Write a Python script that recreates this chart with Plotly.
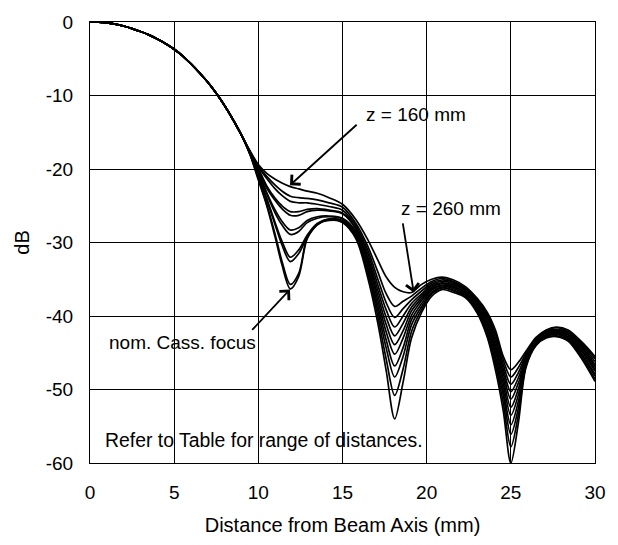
import plotly.graph_objects as go

# Main lobe, shared by every measurement plane (mm, dB)
MAIN_X = [0, 0.5, 1, 1.5, 2, 2.5, 3, 3.5, 4, 4.5, 5, 5.5, 6, 6.5, 7, 7.5, 8, 8.5, 9]
MAIN_DB = [0, -0.03, -0.12, -0.3, -0.55, -0.9, -1.3, -1.75, -2.3, -2.95, -3.7,
           -4.6, -5.7, -6.9, -8.2, -9.7, -11.4, -13.3, -15.4]

# Sidelobe region sample positions (mm)
SIDE_X = [9.5, 10, 10.5, 11, 11.4, 11.9, 12.4, 12.9, 13.5, 14.2, 15, 15.8, 16.5,
          17.1, 17.6, 18.1, 18.6, 19.1, 19.7, 20.3, 20.9, 21.6, 22.3, 23.0, 23.6,
          24.1, 24.55, 25.0, 25.45, 25.9, 26.5, 27.1, 27.7, 28.4, 29.2, 30.0]

# Sidelobe levels (dB) for each plane, z = 160 mm ... 260 mm
z160 = [-17.5, -19.4, -20.6, -21.4, -21.9, -22.4, -22.7, -23.0, -23.3, -23.9, -24.8, -26.9, -29.6,
        -32.4, -34.7, -36.1, -36.7, -36.8, -35.7, -35.0, -34.7, -35.1, -36.0, -37.6, -39.5,
        -42.0, -45.5, -47.3, -46.3, -44.8, -42.9, -41.9, -41.5, -41.9, -43.5, -45.5]
z170 = [-17.6, -19.6, -21.0, -22.2, -23.0, -23.7, -23.9, -24.0, -24.2, -24.6, -25.2, -27.4, -30.5,
        -34.0, -37.0, -38.7, -38.0, -37.3, -36.2, -35.3, -34.9, -35.3, -36.2, -37.8, -39.8,
        -42.5, -46.0, -48.3, -47.0, -45.1, -43.0, -42.0, -41.6, -42.1, -43.7, -45.8]
z180 = [-17.6, -19.7, -21.3, -22.7, -23.6, -24.4, -24.6, -24.6, -24.8, -25.1, -25.6, -27.7, -31.0,
        -35.0, -38.2, -40.2, -39.0, -37.8, -36.6, -35.5, -35.1, -35.4, -36.3, -38.0, -40.1,
        -43.0, -46.6, -49.3, -47.7, -45.3, -43.1, -42.1, -41.8, -42.2, -43.9, -46.2]
z190 = [-17.7, -19.9, -22.3, -24.0, -25.0, -25.8, -25.8, -25.5, -25.4, -25.6, -26.0, -28.0, -31.5,
        -35.8, -39.2, -41.5, -40.0, -38.3, -37.0, -35.7, -35.3, -35.6, -36.5, -38.2, -40.4,
        -43.5, -47.2, -50.3, -48.4, -45.6, -43.2, -42.2, -41.9, -42.4, -44.1, -46.6]
z200 = [-17.7, -20.0, -22.6, -24.3, -25.4, -26.3, -26.3, -25.8, -25.6, -25.7, -26.1, -28.2, -32.0,
        -36.5, -40.2, -42.7, -41.0, -38.8, -37.3, -35.9, -35.5, -35.8, -36.6, -38.4, -40.8,
        -44.0, -47.8, -51.3, -49.1, -45.8, -43.3, -42.3, -42.0, -42.5, -44.3, -46.9]
z210 = [-17.8, -20.3, -23.2, -25.6, -27.1, -28.3, -28.0, -27.0, -26.5, -26.4, -26.7, -28.5, -32.4,
        -37.2, -41.2, -43.9, -42.0, -39.3, -37.6, -36.1, -35.6, -36.0, -36.8, -38.6, -41.1,
        -44.5, -48.5, -52.4, -49.9, -46.0, -43.5, -42.5, -42.1, -42.6, -44.6, -47.2]
z220 = [-17.8, -20.4, -23.4, -26.0, -27.6, -28.9, -28.5, -27.3, -26.7, -26.5, -26.8, -28.7, -32.8,
        -37.9, -42.2, -45.2, -43.0, -39.9, -37.9, -36.3, -35.8, -36.1, -36.9, -38.8, -41.5,
        -45.0, -49.2, -53.5, -50.7, -46.2, -43.6, -42.6, -42.2, -42.8, -44.8, -47.5]
z230 = [-17.9, -20.8, -24.0, -27.3, -29.8, -32.0, -31.0, -29.0, -27.4, -26.8, -27.0, -28.9, -33.3,
        -38.6, -43.3, -46.8, -44.3, -40.5, -38.3, -36.5, -35.9, -36.3, -37.1, -39.0, -41.8,
        -45.6, -50.0, -54.8, -51.6, -46.4, -43.7, -42.7, -42.4, -42.9, -45.1, -47.9]
z240 = [-17.9, -20.9, -24.2, -27.6, -30.3, -32.6, -31.5, -29.3, -27.6, -26.9, -27.1, -29.1, -33.7,
        -39.3, -44.4, -48.3, -45.5, -41.2, -38.7, -36.8, -36.1, -36.5, -37.2, -39.2, -42.2,
        -46.2, -50.8, -56.1, -52.5, -46.6, -43.8, -42.8, -42.5, -43.1, -45.3, -48.2]
z250 = [-18.0, -21.3, -24.8, -28.9, -32.5, -35.7, -34.2, -29.3, -27.5, -27.0, -27.2, -29.3, -34.2,
        -40.1, -45.9, -50.8, -47.2, -42.1, -39.1, -37.0, -36.2, -36.6, -37.4, -39.4, -42.6,
        -46.8, -51.8, -57.8, -53.4, -46.8, -43.9, -42.9, -42.7, -43.3, -45.6, -48.6]
z260 = [-18.0, -21.5, -25.0, -29.3, -33.0, -36.3, -34.6, -29.5, -27.6, -26.8, -27.3, -29.5, -34.8,
        -41.0, -47.5, -54.0, -49.0, -43.0, -39.5, -37.3, -36.4, -36.8, -37.5, -39.6, -42.9,
        -47.5, -52.9, -60.0, -54.5, -47.0, -44.0, -43.0, -42.8, -43.4, -45.8, -48.9]

PLANES = [z160, z170, z180, z190, z200, z210, z220, z230, z240, z250, z260]

X_TICKS = [0, 5, 10, 15, 20, 25, 30]
X_TICK_TEXT = ["0", "5", "10", "15", "20", "25", "30"]
Y_TICKS = [0, -10, -20, -30, -40, -50, -60]
Y_TICK_TEXT = ["0", "-10", "-20", "-30", "-40", "-50", "-60"]

FONT = "Liberation Sans, Arial, Helvetica, sans-serif"

fig = go.Figure()
for side in PLANES:
    fig.add_trace(go.Scatter(
        x=MAIN_X + SIDE_X, y=MAIN_DB + side, mode="lines",
        line=dict(color="black", width=1.7, shape="spline", smoothing=0.9),
        showlegend=False, hoverinfo="skip"))

axis_common = dict(showgrid=True, gridcolor="black", gridwidth=1,
                   showline=True, linecolor="black", linewidth=1, mirror=True,
                   zeroline=False, ticks="", tickfont=dict(family=FONT, size=19, color="black"))

fig.update_xaxes(range=[0, 30], tickvals=X_TICKS, ticktext=X_TICK_TEXT,
                 ticklabelstandoff=12,
                 title=dict(text="Distance from Beam Axis (mm)", standoff=16,
                            font=dict(family=FONT, size=20, color="black")),
                 **axis_common)
fig.update_yaxes(range=[-60, 0], tickvals=Y_TICKS, ticktext=Y_TICK_TEXT,
                 ticklabelstandoff=12,
                 title=dict(text="dB", standoff=10,
                            font=dict(family=FONT, size=20, color="black")),
                 **axis_common)

txt = dict(family=FONT, size=19, color="black")
arrow = dict(showarrow=True, arrowhead=4, arrowsize=1.4, arrowwidth=1.8,
             arrowcolor="black", axref="x", ayref="y", text="")

fig.add_annotation(x=11.88, y=-22.2, ax=15.93, ay=-13.8, **arrow)
fig.add_annotation(x=19.23, y=-36.8, ax=18.57, ay=-27.2, **arrow)
fig.add_annotation(x=11.88, y=-36.4, ax=9.55, ay=-42.1, **arrow)

fig.add_annotation(x=19.39, y=-12.55, text="z = 160 mm", showarrow=False, font=txt)
fig.add_annotation(x=21.46, y=-25.4, text="z = 260 mm", showarrow=False, font=txt)
fig.add_annotation(x=5.48, y=-43.6, text="nom. Cass. focus", showarrow=False, font=txt)
fig.add_annotation(x=0.8, y=-56.85, xanchor="left",
                   text="Refer to Table for range of distances.", showarrow=False,
                   font=dict(family=FONT, size=19.4, color="black"))

fig.update_layout(width=618, height=545,
                  margin=dict(l=90, r=14, t=14, b=79),
                  paper_bgcolor="white", plot_bgcolor="white",
                  font=dict(family=FONT, color="black"))

fig.write_html("out.html")
